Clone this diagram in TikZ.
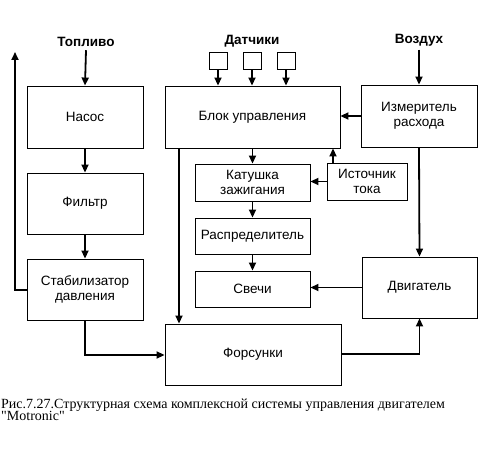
\documentclass[tikz,border=0pt]{standalone}
\usepackage{fontspec}
\setmainfont{Liberation Sans}
\newfontfamily\capfont{Liberation Serif}
\usetikzlibrary{arrows.meta}
\begin{document}
\begin{tikzpicture}[x=1pt,y=-1pt,
  blk/.style={draw, line width=0.9pt, inner sep=0pt, align=center, font=\fontsize{13.5}{15}\selectfont},
  sq/.style={draw, line width=0.9pt, minimum width=18pt, minimum height=17pt, inner sep=0pt},
  lbl/.style={font=\bfseries\fontsize{13.5}{15}\selectfont},
  arr/.style={line width=1.8pt, -{Triangle[length=8pt,width=7pt]}},
  ln/.style={line width=1.8pt}]
\useasboundingbox (0,0) rectangle (488,460);
% boxes
\node[blk, minimum width=116pt, minimum height=62pt] (nas) at (85,117) {Насос};
\node[blk, minimum width=116pt, minimum height=61pt] (fil) at (85,203.5) {Фильтр};
\node[blk, minimum width=116pt, minimum height=61pt] (stb) at (85,289.5) {Стабилизатор\\давления};
\node[blk, minimum width=175pt, minimum height=62pt] (blu) at (252.5,117) {Блок управления};
\node[blk, minimum width=116pt, minimum height=62pt] (izm) at (419,116) {Измеритель\\расхода};
\node[blk, minimum width=115pt, minimum height=37pt] (kat) at (252.5,182.5) {Катушка\\зажигания};
\node[blk, minimum width=80pt, minimum height=37pt] (ist) at (367,181.5) {Источник\\тока};
\node[blk, minimum width=115pt, minimum height=36pt] (ras) at (252.5,236) {Распределитель};
\node[blk, minimum width=115pt, minimum height=36pt] (sve) at (252.5,289) {Свечи};
\node[blk, minimum width=115pt, minimum height=61pt] (dvg) at (419.5,287.5) {Двигатель};
\node[blk, minimum width=176pt, minimum height=61pt] (for) at (253,354.5) {Форсунки};
% sensors
\node[sq] (s1) at (218,60.5) {};
\node[sq] (s2) at (252,60.5) {};
\node[sq] (s3) at (286,60.5) {};
% labels
\node[lbl] (top) at (86,42) {Топливо};
\node[lbl] (dat) at (252,41) {Датчики};
\node[lbl] (voz) at (419,40) {Воздух};
% connectors
\draw[arr] (top.south) -- (nas.north);
\draw[arr] (nas) -- (fil);
\draw[arr] (fil) -- (stb);
\draw[arr] (stb.south) |- (for.west |- 0,355);
\coordinate (fb) at (15,52);
\draw[arr] (stb.west |- 0,290) -| (fb);
\draw[arr] (s1) -- (s1 |- blu.north);
\draw[arr] (s2) -- (s2 |- blu.north);
\draw[arr] (s3) -- (s3 |- blu.north);
\draw[arr] (voz.south) -- (izm.north);
\draw[arr] (izm.west) -- (blu.east |- izm.west);
\draw[arr] (blu.south) -- (kat.north);
\draw[arr] (kat) -- (ras);
\draw[arr] (ras) -- (sve);
\draw[arr] (ist.west) -- (kat.east |- ist.west);
\draw[arr] (ist.north -| 333,0) -- (blu.south -| 333,0);
\draw[arr] (179,148) -- (for.north -| 179,0);
\draw[arr] (izm.south) -- (dvg.north);
\draw[arr] (dvg.west) -- (sve.east |- dvg.west);
\draw[arr] (for.east |- 0,354) -| (dvg.south);
% caption
\node[anchor=north west, inner sep=0pt, align=left, font=\capfont\fontsize{14}{12.5}\selectfont] (cap) at (1,398.5)
  {Рис.7.27.Структурная схема комплексной системы управления двигателем\\"Motronic"};
\end{tikzpicture}
\end{document}
